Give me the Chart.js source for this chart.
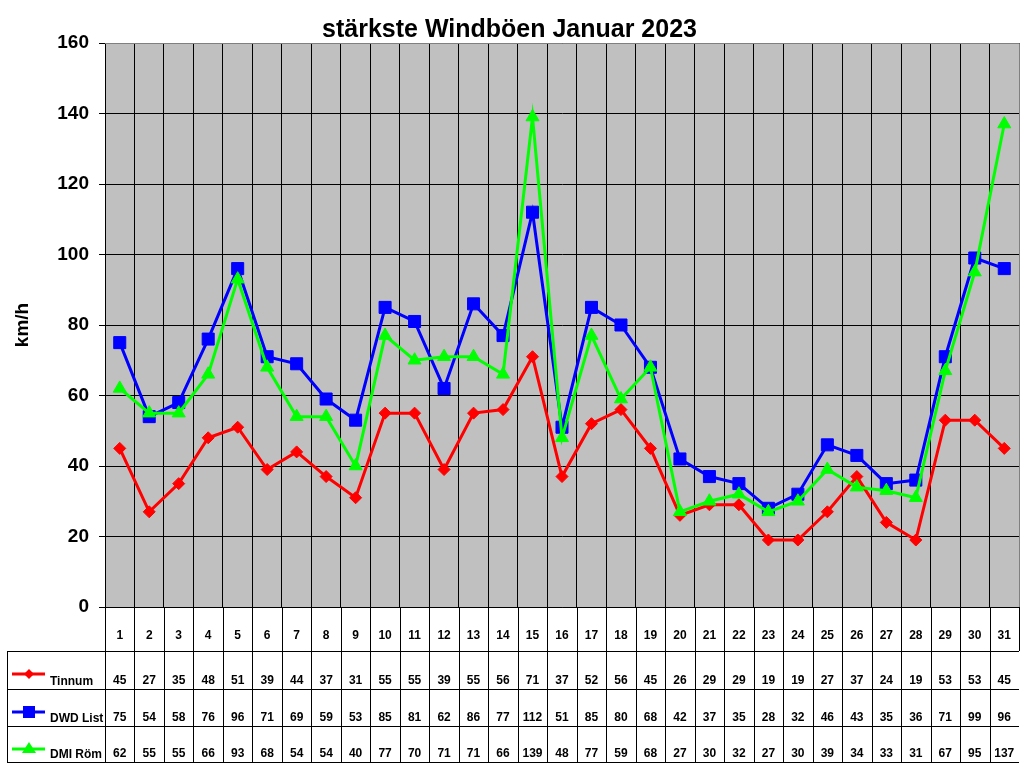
<!DOCTYPE html>
<html>
<head>
<meta charset="utf-8">
<script src="https://cdn.jsdelivr.net/npm/chart.js@4.4.1/dist/chart.umd.min.js"></script>
<style>
  html, body { margin: 0; padding: 0; background: #ffffff; }
  #wrap { width: 1024px; height: 768px; position: relative; }
</style>
</head>
<body>
<div id="wrap"><canvas id="c" width="1024" height="768"></canvas></div>
<script>
const days = ['1','2','3','4','5','6','7','8','9','10','11','12','13','14','15','16','17','18','19','20','21','22','23','24','25','26','27','28','29','30','31'];
const tinnum = [45,27,35,48,51,39,44,37,31,55,55,39,55,56,71,37,52,56,45,26,29,29,19,19,27,37,24,19,53,53,45];
const dwdList = [75,54,58,76,96,71,69,59,53,85,81,62,86,77,112,51,85,80,68,42,37,35,28,32,46,43,35,36,71,99,96];
const dmiRoem = [62,55,55,66,93,68,54,54,40,77,70,71,71,66,139,48,77,59,68,27,30,32,27,30,39,34,33,31,67,95,137];
const seriesNames = ['Tinnum', 'DWD List', 'DMI Röm'];
const yTicks = [0,20,40,60,80,100,120,140,160];

const FONT = '"Liberation Sans", Arial, sans-serif';

const bgPlugin = {
  id: 'bgPlugin',
  beforeDraw(chart) {
    const {ctx, chartArea: a} = chart;
    ctx.save();
    ctx.fillStyle = '#ffffff';
    ctx.fillRect(0, 0, chart.width, chart.height);
    ctx.fillStyle = '#C0C0C0';
    ctx.fillRect(a.left, a.top, a.right - a.left, a.bottom - a.top);
    ctx.restore();
  },
  beforeDatasetsDraw(chart) {
    const {ctx, chartArea: a} = chart;
    ctx.save();
    ctx.strokeStyle = '#808080';
    ctx.lineWidth = 1;
    ctx.beginPath();
    ctx.moveTo(a.left, a.top + 0.5);
    ctx.lineTo(a.right + 0.5, a.top + 0.5);
    ctx.lineTo(a.right + 0.5, a.bottom);
    ctx.stroke();
    ctx.restore();
  }
};

function drawMarker(ctx, style, x, y, color) {
  ctx.fillStyle = color;
  ctx.beginPath();
  if (style === 'diamond') {
    const r = 5;
    ctx.moveTo(x - r, y); ctx.lineTo(x, y - r); ctx.lineTo(x + r, y); ctx.lineTo(x, y + r);
  } else if (style === 'square') {
    ctx.rect(x - 6, y - 6, 12, 12);
  } else {
    ctx.moveTo(x, y - 7); ctx.lineTo(x + 7, y + 4); ctx.lineTo(x - 7, y + 4);
  }
  ctx.closePath();
  ctx.fill();
}

const tablePlugin = {
  id: 'tablePlugin',
  afterDraw(chart) {
    const {ctx, chartArea: a} = chart;
    const xs = chart.scales.x;
    const n = days.length;
    const cw = (a.right - a.left) / n;
    const top = a.bottom;
    const rows = [top + 44, top + 82, top + 119, top + 155];
    const tableLeft = 7;
    const seriesData = [tinnum, dwdList, dmiRoem];
    const colors = ['#FF0000', '#0000FF', '#00FF00'];
    const markers = ['diamond', 'square', 'triangle'];
    ctx.save();
    ctx.strokeStyle = '#000000';
    ctx.lineWidth = 1;
    ctx.beginPath();
    for (let i = 0; i < n; i++) {
      const x = Math.round(a.left + i * cw) + 0.5;
      ctx.moveTo(x, top);
      ctx.lineTo(x, rows[3]);
    }
    const xr = Math.round(a.right) + 0.5;
    ctx.moveTo(xr, top);
    ctx.lineTo(xr, rows[0]);
    ctx.moveTo(tableLeft + 0.5, rows[0]);
    ctx.lineTo(tableLeft + 0.5, rows[3]);
    for (const ry of rows) {
      ctx.moveTo(tableLeft, ry + 0.5);
      ctx.lineTo(a.right, ry + 0.5);
    }
    ctx.stroke();

    ctx.fillStyle = '#000000';
    ctx.font = 'bold 12px ' + FONT;
    ctx.textAlign = 'center';
    ctx.textBaseline = 'middle';
    for (let i = 0; i < n; i++) {
      const x = xs.getPixelForValue(i);
      ctx.fillText(days[i], x, top + 29);
      for (let s = 0; s < 3; s++) {
        ctx.fillText(String(seriesData[s][i]), x, rows[s + 1] - 8);
      }
    }
    for (let s = 0; s < 3; s++) {
      const ly = rows[s] + 23;
      ctx.strokeStyle = colors[s];
      ctx.lineWidth = 3;
      ctx.beginPath();
      ctx.moveTo(12, ly);
      ctx.lineTo(45, ly);
      ctx.stroke();
      drawMarker(ctx, markers[s], 29, ly, colors[s]);
      ctx.fillStyle = '#000000';
      ctx.textAlign = 'left';
      ctx.fillText(seriesNames[s], 50, rows[s + 1] - 7);
    }
    ctx.restore();
  }
};

const ctx = document.getElementById('c').getContext('2d');
new Chart(ctx, {
  type: 'line',
  data: {
    labels: days,
    datasets: [
      { label: seriesNames[0], data: tinnum, borderColor: '#FF0000', backgroundColor: '#FF0000',
        borderWidth: 3, pointStyle: 'rectRot', pointRadius: 6, pointBorderWidth: 1, tension: 0, order: 3 },
      { label: seriesNames[1], data: dwdList, borderColor: '#0000FF', backgroundColor: '#0000FF',
        borderWidth: 3, pointStyle: 'rect', pointRadius: 8.5, pointBorderWidth: 1, tension: 0, order: 2 },
      { label: seriesNames[2], data: dmiRoem, borderColor: '#00FF00', backgroundColor: '#00FF00',
        borderWidth: 3, pointStyle: 'triangle', pointRadius: 7.5, pointBorderWidth: 1, tension: 0, order: 1 }
    ]
  },
  options: {
    responsive: false,
    devicePixelRatio: 1,
    animation: false,
    layout: { autoPadding: false, padding: { left: 0, right: 5, top: 0, bottom: 0 } },
    plugins: {
      legend: { display: false },
      tooltip: { enabled: false },
      title: {
        display: true,
        text: 'stärkste Windböen Januar 2023',
        color: '#000000',
        font: { family: FONT, size: 25, weight: 'bold', lineHeight: 1.2 },
        padding: { top: 15, bottom: -2 }
      }
    },
    scales: {
      x: {
        type: 'category',
        offset: true,
        grid: { offset: true, color: '#000000', lineWidth: 1, drawTicks: false },
        border: { display: true, color: '#000000', width: 1 },
        ticks: { display: false },
        afterFit(scale) { scale.height = 161; }
      },
      y: {
        min: 0,
        max: 160,
        afterBuildTicks(scale) { scale.ticks = yTicks.map(v => ({ value: v })); },
        grid: { color: '#000000', lineWidth: 1, tickLength: 6, drawTicks: true },
        border: { display: true, color: '#000000', width: 1 },
        ticks: {
          color: '#000000',
          padding: 10,
          font: { family: FONT, size: 19, weight: 'bold' }
        },
        title: {
          display: true,
          text: 'km/h',
          color: '#000000',
          font: { family: FONT, size: 19, weight: 'bold', lineHeight: 1.2 },
          padding: { top: 11, bottom: 0 }
        },
        afterFit(scale) { scale.width = 105; }
      }
    }
  },
  plugins: [bgPlugin, tablePlugin]
});
</script>
</body>
</html>
